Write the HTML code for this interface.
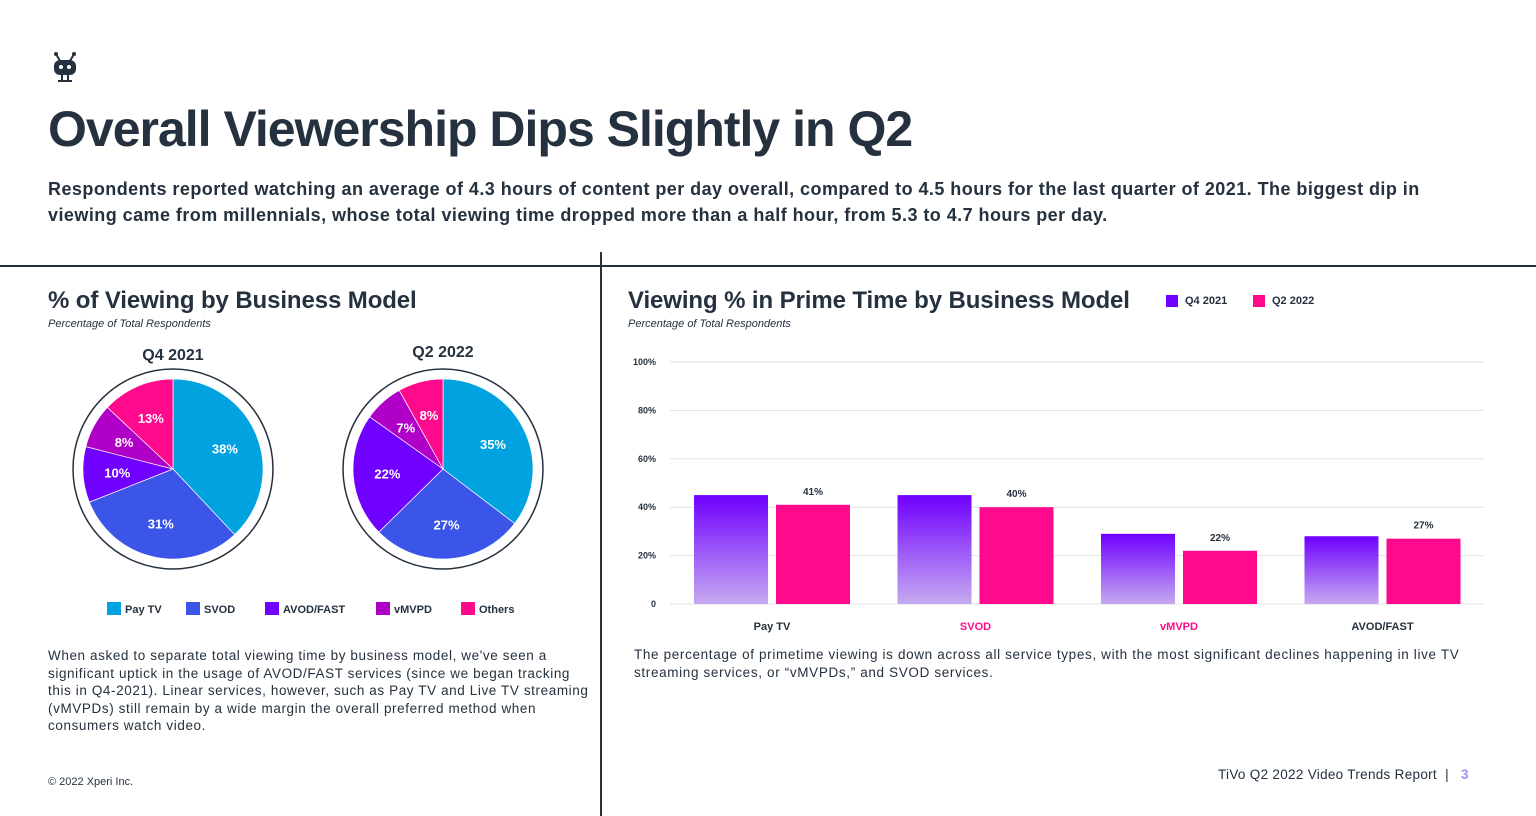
<!DOCTYPE html>
<html><head><meta charset="utf-8">
<style>
body{margin:0;width:1536px;height:816px;background:#fff;font-family:"Liberation Sans",sans-serif;color:#25313f;position:relative;overflow:hidden}
.a{position:absolute;margin:0}
</style></head><body>
<svg class="a" style="left:52px;top:52px" width="26" height="30" viewBox="0 0 26 30">
<line x1="8" y1="9" x2="4" y2="2" stroke="#25313f" stroke-width="2"/><line x1="18" y1="9" x2="22" y2="2" stroke="#25313f" stroke-width="2"/>
<circle cx="4" cy="2" r="2" fill="#25313f"/><circle cx="22" cy="2" r="2" fill="#25313f"/>
<rect x="2" y="8" width="22" height="15" rx="6" fill="#25313f"/><circle cx="9" cy="15" r="2" fill="#fff"/><circle cx="17" cy="15" r="2" fill="#fff"/>
<line x1="10" y1="23" x2="10" y2="29" stroke="#25313f" stroke-width="2"/><line x1="16" y1="23" x2="16" y2="29" stroke="#25313f" stroke-width="2"/>
<line x1="6" y1="29" x2="20" y2="29" stroke="#25313f" stroke-width="2"/></svg>
<h1 class="a" style="left:48px;top:100px;font-size:50px;font-weight:bold;letter-spacing:-1px">Overall Viewership Dips Slightly in Q2</h1>
<p class="a" style="left:48px;top:176px;width:1480px;font-size:18px;font-weight:bold;line-height:26px;letter-spacing:0.45px">Respondents reported watching an average of 4.3 hours of content per day overall, compared to 4.5 hours for the last quarter of 2021. The biggest dip in<br>viewing came from millennials, whose total viewing time dropped more than a half hour, from 5.3 to 4.7 hours per day.</p>
<div class="a" style="left:0;top:265px;width:1536px;height:2px;background:#25313f"></div>
<div class="a" style="left:600px;top:252px;width:2px;height:564px;background:#25313f"></div>

<h2 class="a" style="left:48px;top:287px;font-size:24px;font-weight:bold;letter-spacing:-0.1px">% of Viewing by Business Model</h2>
<div class="a" style="left:48px;top:318px;font-size:11px;font-style:italic">Percentage of Total Respondents</div>
<svg class="a" style="left:0;top:330px" width="600" height="300" id="pies"></svg>
<p class="a" style="left:48px;top:647px;width:550px;font-size:13.5px;line-height:17.5px;letter-spacing:0.6px">When asked to separate total viewing time by business model, we've seen a<br>significant uptick in the usage of AVOD/FAST services (since we began tracking<br>this in Q4-2021). Linear services, however, such as Pay TV and Live TV streaming<br>(vMVPDs) still remain by a wide margin the overall preferred method when<br>consumers watch video.</p>
<div class="a" style="left:48px;top:776px;font-size:11px">© 2022 Xperi Inc.</div>

<h2 class="a" style="left:628px;top:287px;font-size:24px;font-weight:bold;letter-spacing:-0.1px">Viewing % in Prime Time by Business Model</h2>
<div class="a" style="left:628px;top:318px;font-size:11px;font-style:italic">Percentage of Total Respondents</div>
<div class="a" style="left:1166px;top:295px;font-size:11px;font-weight:bold;display:flex;align-items:center"><span style="width:12px;height:12px;background:#7000ff;margin-right:7px"></span>Q4 2021</div>
<div class="a" style="left:1253px;top:295px;font-size:11px;font-weight:bold;display:flex;align-items:center"><span style="width:12px;height:12px;background:#ff0a8c;margin-right:7px"></span>Q2 2022</div>
<svg class="a" style="left:0;top:0" width="1536" height="816" id="bars">
<defs><linearGradient id="g" x1="0" y1="0" x2="0" y2="1"><stop offset="0" stop-color="#7000ff"/><stop offset="1" stop-color="#c4aaf0"/></linearGradient></defs></svg>
<p class="a" style="left:634px;top:646px;width:890px;font-size:13.5px;line-height:17.5px;letter-spacing:0.65px">The percentage of primetime viewing is down across all service types, with the most significant declines happening in live TV<br>streaming services, or “vMVPDs,” and SVOD services.</p>
<div class="a" style="left:1218px;top:767px;font-size:13.5px;letter-spacing:0.3px">TiVo Q2 2022 Video Trends Report &nbsp;| &nbsp;&nbsp;<b style="color:#a78bfa">3</b></div>

<script>
const pieCategories=["Pay TV","SVOD","AVOD/FAST","vMVPD","Others"];
const pieQ4=[38,31,10,8,13];
const pieQ2=[35,27,22,7,8];
const pieTitles=["Q4 2021","Q2 2022"];
const barCategories=["Pay TV","SVOD","vMVPD","AVOD/FAST"];
const barQ4=[45,45,29,28];
const barQ2=[41,40,22,27];
const yTicks=[0,20,40,60,80,100];
const yTickLabels=["0","20%","40%","60%","80%","100%"];
const colors=["#00a3e0","#3a55e8","#7000ff","#b000c8","#ff0a8c"];
const NS="http://www.w3.org/2000/svg";
function mk(p,t,a){const e=document.createElementNS(NS,t);for(const k in a)e.setAttribute(k,a[k]);p.appendChild(e);return e;}
const pies=document.getElementById('pies');
[[pieQ4,173],[pieQ2,443]].forEach(([vals,cx],pi)=>{
  const cy=139,r=90;
  const t=mk(pies,'text',{x:cx,y:pi?27:30,'text-anchor':'middle','font-size':16,'font-weight':'bold',fill:'#25313f'});t.textContent=pieTitles[pi];
  
  
  const ring=mk(pies,'circle',{cx,cy,r:100,fill:'none',stroke:'#25313f','stroke-width':1.5});
  
  
  const tot=vals.reduce((a,b)=>a+b,0);let a0=0;
  vals.forEach((v,i)=>{
    const a1=a0+v/tot*2*Math.PI;
    const x0=cx+r*Math.sin(a0),y0=cy-r*Math.cos(a0),x1=cx+r*Math.sin(a1),y1=cy-r*Math.cos(a1);
    const s=mk(pies,'path',{d:`M${cx},${cy}L${x0},${y0}A${r},${r} 0 ${a1-a0>Math.PI?1:0} 1 ${x1},${y1}Z`,fill:colors[i],stroke:'#fff','stroke-width':0.7});
    
    
    const m=(a0+a1)/2,lr=r*0.62;
    const l=mk(pies,'text',{x:cx+lr*Math.sin(m),y:cy-lr*Math.cos(m)+5,'text-anchor':'middle','font-size':13,'font-weight':'bold',fill:'#fff'});l.textContent=v+'%';
    
    
    a0=a1;
  });
});
const lx=[107,186,265,376,461];
pieCategories.forEach((c,i)=>{
  const g=mk(pies,'g',{});
  
  
  mk(g,'rect',{x:lx[i],y:272,width:14,height:13,fill:colors[i]});
  const t=mk(g,'text',{x:lx[i]+18,y:283,'font-size':11,'font-weight':'bold',fill:'#25313f'});t.textContent=c;
});
const bars=document.getElementById('bars');
const x0=670,x1=1484,y0=604,yTop=362;
const ys=v=>y0-(v/100)*(y0-yTop);
const band=(x1-x0)/barCategories.length;
yTicks.forEach((v,i)=>{
  const l=mk(bars,'line',{x1:x0,x2:x1,y1:ys(v),y2:ys(v),stroke:'#e2e2e2','stroke-width':1});
  
  
  const t=mk(bars,'text',{x:656,y:ys(v)+3,'text-anchor':'end','font-size':9,'font-weight':'bold',fill:'#25313f'});t.textContent=yTickLabels[i];
  
  
});
barCategories.forEach((c,i)=>{
  const bx=x0+i*band+24,w=74;
  const r1=mk(bars,'rect',{x:bx,y:ys(barQ4[i]),width:w,height:y0-ys(barQ4[i]),fill:'url(#g)'});
  
  
  const r2=mk(bars,'rect',{x:bx+82,y:ys(barQ2[i]),width:w,height:y0-ys(barQ2[i]),fill:'#ff0a8c'});
  
  
  const vl=mk(bars,'text',{x:bx+82+w/2,y:ys(barQ2[i])-10,'text-anchor':'middle','font-size':10,'font-weight':'bold',fill:'#25313f'});vl.textContent=barQ2[i]+'%';
  
  
  const xl=mk(bars,'text',{x:bx+78,y:630,'text-anchor':'middle','font-size':11,'font-weight':'bold',fill:(i==1||i==2)?'#ff0a8c':'#25313f'});xl.textContent=c;
  
  
});
</script>
</body></html>
